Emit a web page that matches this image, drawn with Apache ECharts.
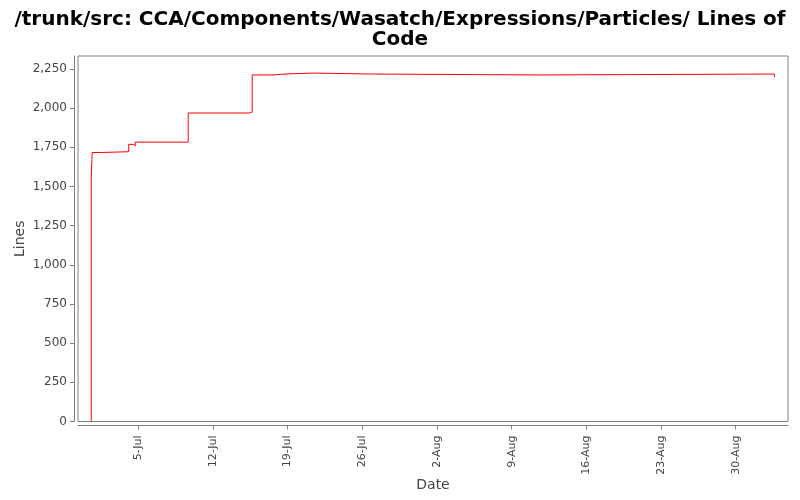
<!DOCTYPE html>
<html>
<head>
<meta charset="utf-8">
<script src="https://cdn.jsdelivr.net/npm/echarts@6/dist/echarts.min.js"></script>
<style>html,body{margin:0;padding:0;background:#fff}#c{width:800px;height:500px}</style>
</head>
<body>
<div id="c"></div>
<script>
const titleText = "/trunk/src: CCA/Components/Wasatch/Expressions/Particles/ Lines of\nCode";
const xName = "Date";
const yName = "Lines";
// change times (UTC) and line counts after each change
const times = ["2009-06-30T14:10:00Z","2009-06-30T14:10:00Z","2009-06-30T16:19:00Z","2009-07-01T11:02:00Z","2009-07-01T14:53:00Z","2009-07-04T02:24:00Z","2009-07-04T12:43:00Z","2009-07-04T17:17:00Z","2009-07-09T16:19:00Z","2009-07-15T09:36:00Z","2009-07-15T16:19:00Z","2009-07-17T15:36:00Z","2009-07-18T16:19:00Z","2009-07-21T12:00:00Z","2009-07-26T18:00:00Z","2009-08-11T14:10:00Z","2009-09-02T14:53:00Z"];
const lines = [0,1557,1717,1705,1722,1769,1760,1783,1969,1975,2212,2218,2224,2218,2212,2218,2197];
const xTicks = ["2009-07-05","2009-07-12","2009-07-19","2009-07-26","2009-08-02","2009-08-09","2009-08-16","2009-08-23","2009-08-30"];
const xMin = "2009-06-29T08:24:00Z";
const xMax = "2009-09-03T21:36:00Z";
const yTicks = [0,250,500,750,1000,1250,1500,1750,2000,2250];
const yMax = 2333;
const monthNames = ["Jan","Feb","Mar","Apr","May","Jun","Jul","Aug","Sep","Oct","Nov","Dec"];

const data = times.map((t,i)=>[Date.parse(t), lines[i]]);
const xTickVals = xTicks.map(d=>Date.parse(d));

const chart = echarts.init(document.getElementById('c'), null, {renderer:'canvas'});
const labelColor = '#444';
const axisColor = '#808080';
chart.setOption({
  backgroundColor:'#fff',
  animation:false,
  title:{
    text:titleText, left:'center', top:5,
    textStyle:{fontFamily:'DejaVu Sans', fontWeight:'bold', fontSize:20, color:'#000', lineHeight:20}
  },
  grid:{left:78, right:12, top:56, bottom:78.5, show:true, borderColor:axisColor, borderWidth:1, backgroundColor:'#fff'},
  xAxis:{
    type:'value', min:Date.parse(xMin), max:Date.parse(xMax), offset:4,
    name:xName, nameLocation:'middle', nameGap:53, nameMoveOverlap:false,
    nameTextStyle:{fontFamily:'DejaVu Sans', fontSize:14, color:labelColor},
    axisLine:{show:true, onZero:false, lineStyle:{color:axisColor}},
    axisTick:{show:true, length:4, lineStyle:{color:axisColor}, customValues:xTickVals},
    axisLabel:{rotate:90, margin:10, fontFamily:'DejaVu Sans', fontSize:11, color:labelColor, customValues:xTickVals,
      formatter:(v)=>{const d=new Date(v); return d.getUTCDate()+'-'+monthNames[d.getUTCMonth()];}},
    splitLine:{show:false}
  },
  yAxis:{
    type:'value', min:0, max:yMax, offset:4,
    name:yName, nameLocation:'middle', nameGap:47, nameMoveOverlap:false,
    nameTextStyle:{fontFamily:'DejaVu Sans', fontSize:14, color:labelColor},
    axisLine:{show:true, onZero:false, lineStyle:{color:axisColor}},
    axisTick:{show:true, length:4, lineStyle:{color:axisColor}, customValues:yTicks},
    axisLabel:{margin:7, fontFamily:'DejaVu Sans', fontSize:12, color:labelColor, customValues:yTicks,
      formatter:(v)=>v.toLocaleString('en-US')},
    splitLine:{show:false}
  },
  series:[{
    type:'line', data:data, step:'end', showSymbol:false, symbol:'none',
    lineStyle:{color:'#ff0000', width:1}, itemStyle:{color:'#ff0000'}
  }]
});
</script>
</body>
</html>
